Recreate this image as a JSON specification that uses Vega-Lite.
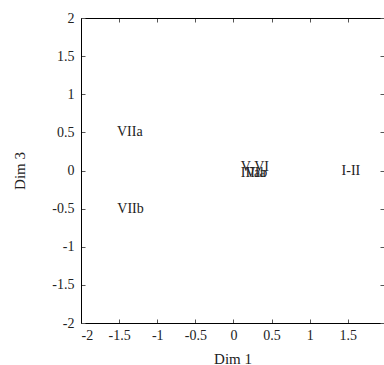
{
  "$schema": "https://vega.github.io/schema/vega-lite/v6.json",
  "width": 303,
  "height": 305,
  "autosize": {"type": "none"},
  "padding": {"left": 81, "top": 18, "right": 0, "bottom": 42},
  "background": "white",
  "config": {
    "view": {"stroke": null},
    "font": "Liberation Serif",
    "axis": {
      "grid": false,
      "domainColor": "#000000",
      "domainWidth": 1,
      "tickColor": "#555555",
      "tickWidth": 1,
      "labelFont": "Liberation Serif",
      "labelFontSize": 14,
      "labelColor": "#222222",
      "titleFont": "Liberation Serif",
      "titleFontSize": 15,
      "titleFontWeight": "normal",
      "titleColor": "#222222"
    }
  },
  "data": {
    "values": [
      {"label": "VIIa", "d1": -1.36, "d3": 0.51},
      {"label": "VIIb", "d1": -1.35, "d3": -0.5},
      {"label": "I-II", "d1": 1.54, "d3": 0.0},
      {"label": "V-VI", "d1": 0.28, "d3": 0.05},
      {"label": "IVab", "d1": 0.27, "d3": -0.03},
      {"label": "IIIa", "d1": 0.29, "d3": -0.03}
    ]
  },
  "layer": [
    {
      "mark": {"type": "text", "align": "center", "baseline": "middle", "fontSize": 14, "color": "#222222"},
      "encoding": {
        "x": {
          "field": "d1",
          "type": "quantitative",
          "scale": {"domain": [-2, 1.974], "nice": false, "zero": false},
          "axis": {
            "title": "Dim 1",
            "values": [-2, -1.5, -1, -0.5, 0, 0.5, 1, 1.5],
            "labelExpr": "'' + datum.value",
            "tickSize": -4,
            "labelPadding": 9,
            "titlePadding": 9
          }
        },
        "y": {
          "field": "d3",
          "type": "quantitative",
          "scale": {"domain": [-2, 2], "nice": false, "zero": false},
          "axis": {
            "title": "Dim 3",
            "values": [-2, -1.5, -1, -0.5, 0, 0.5, 1, 1.5, 2],
            "labelExpr": "'' + datum.value",
            "tickSize": -4,
            "labelPadding": 11,
            "titlePadding": 24
          }
        },
        "text": {"field": "label"}
      }
    },
    {
      "mark": {"type": "text", "opacity": 0},
      "encoding": {
        "x": {
          "field": "d1",
          "type": "quantitative",
          "axis": {
            "orient": "top",
            "title": null,
            "labels": false,
            "values": [-2, -1.5, -1, -0.5, 0, 0.5, 1, 1.5],
            "tickSize": -4
          }
        },
        "y": {
          "field": "d3",
          "type": "quantitative",
          "axis": {
            "orient": "right",
            "title": null,
            "labels": false,
            "domain": false,
            "values": [-2, -1.5, -1, -0.5, 0, 0.5, 1, 1.5, 2],
            "tickSize": -4
          }
        },
        "text": {"field": "label"}
      }
    }
  ],
  "resolve": {"axis": {"x": "independent", "y": "independent"}}
}
